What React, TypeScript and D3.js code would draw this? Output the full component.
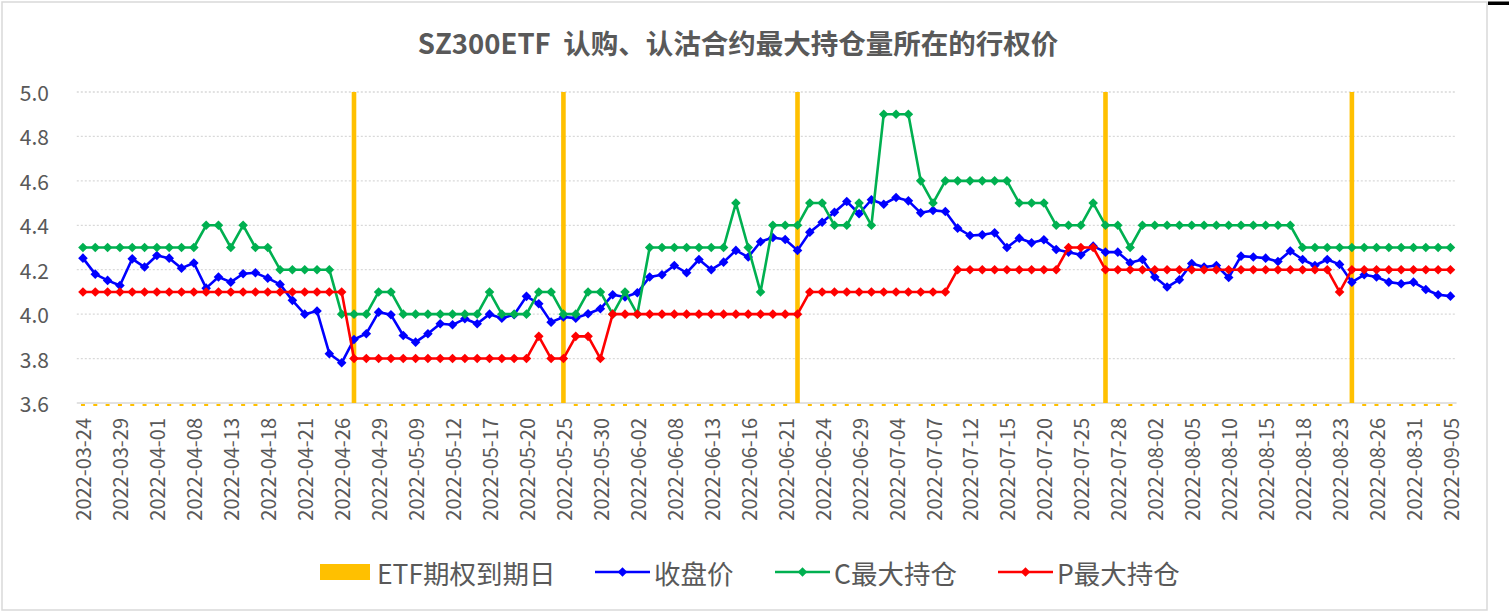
import * as d3 from "d3";

const dates = [
  "2022-03-24", "2022-03-25", "2022-03-28", "2022-03-29", "2022-03-30", "2022-03-31",
  "2022-04-01", "2022-04-06", "2022-04-07", "2022-04-08", "2022-04-11", "2022-04-12", "2022-04-13",
  "2022-04-14", "2022-04-15", "2022-04-18", "2022-04-19", "2022-04-20", "2022-04-21", "2022-04-22",
  "2022-04-25", "2022-04-26", "2022-04-27", "2022-04-28", "2022-04-29",
  "2022-05-05", "2022-05-06", "2022-05-09", "2022-05-10", "2022-05-11", "2022-05-12", "2022-05-13",
  "2022-05-16", "2022-05-17", "2022-05-18", "2022-05-19", "2022-05-20", "2022-05-23", "2022-05-24",
  "2022-05-25", "2022-05-26", "2022-05-27", "2022-05-30", "2022-05-31",
  "2022-06-01", "2022-06-02", "2022-06-06", "2022-06-07", "2022-06-08", "2022-06-09", "2022-06-10",
  "2022-06-13", "2022-06-14", "2022-06-15", "2022-06-16", "2022-06-17", "2022-06-20", "2022-06-21",
  "2022-06-22", "2022-06-23", "2022-06-24", "2022-06-27", "2022-06-28", "2022-06-29", "2022-06-30",
  "2022-07-01", "2022-07-04", "2022-07-05", "2022-07-06", "2022-07-07", "2022-07-08", "2022-07-11",
  "2022-07-12", "2022-07-13", "2022-07-14", "2022-07-15", "2022-07-18", "2022-07-19", "2022-07-20",
  "2022-07-21", "2022-07-22", "2022-07-25", "2022-07-26", "2022-07-27", "2022-07-28", "2022-07-29",
  "2022-08-01", "2022-08-02", "2022-08-03", "2022-08-04", "2022-08-05", "2022-08-08", "2022-08-09",
  "2022-08-10", "2022-08-11", "2022-08-12", "2022-08-15", "2022-08-16", "2022-08-17", "2022-08-18",
  "2022-08-19", "2022-08-22", "2022-08-23", "2022-08-24", "2022-08-25", "2022-08-26", "2022-08-29",
  "2022-08-30", "2022-08-31", "2022-09-01", "2022-09-02", "2022-09-05",
];

// ETF option expiry days (bar series, drawn up to 5.0)
const expiryDates = ["2022-04-27", "2022-05-25", "2022-06-22", "2022-07-27", "2022-08-24"];
const expiryValue = 5.0;

// 收盘价
const close = [
  4.252, 4.18, 4.152, 4.129, 4.249, 4.212, 4.264, 4.252, 4.207, 4.23,
  4.117, 4.167, 4.144, 4.182, 4.186, 4.162, 4.134, 4.062, 4.0, 4.014,
  3.822, 3.781, 3.886, 3.912, 4.009, 3.997, 3.904, 3.874, 3.912, 3.957,
  3.952, 3.979, 3.957, 4.0, 3.982, 3.997, 4.08, 4.047, 3.964, 3.987,
  3.982, 4.002, 4.024, 4.087, 4.077, 4.096, 4.167, 4.177, 4.219, 4.186,
  4.246, 4.2, 4.234, 4.287, 4.257, 4.326, 4.345, 4.336, 4.287, 4.369,
  4.414, 4.459, 4.507, 4.452, 4.515, 4.495, 4.525, 4.51, 4.456, 4.467,
  4.462, 4.387, 4.354, 4.357, 4.366, 4.3, 4.342, 4.321, 4.335, 4.291,
  4.279, 4.267, 4.306, 4.279, 4.279, 4.231, 4.246, 4.167, 4.122, 4.155,
  4.228, 4.212, 4.219, 4.165, 4.261, 4.257, 4.252, 4.237, 4.284, 4.246,
  4.219, 4.246, 4.224, 4.144, 4.177, 4.167, 4.144, 4.137, 4.144, 4.111,
  4.087, 4.081,
];

// C最大持仓
const callMax = [
  4.3, 4.3, 4.3, 4.3, 4.3, 4.3, 4.3, 4.3, 4.3, 4.3,
  4.4, 4.4, 4.3, 4.4, 4.3, 4.3, 4.2, 4.2, 4.2, 4.2,
  4.2, 4.0, 4.0, 4.0, 4.1, 4.1, 4.0, 4.0, 4.0, 4.0,
  4.0, 4.0, 4.0, 4.1, 4.0, 4.0, 4.0, 4.1, 4.1, 4.0,
  4.0, 4.1, 4.1, 4.0, 4.1, 4.0, 4.3, 4.3, 4.3, 4.3,
  4.3, 4.3, 4.3, 4.5, 4.3, 4.1, 4.4, 4.4, 4.4, 4.5,
  4.5, 4.4, 4.4, 4.5, 4.4, 4.9, 4.9, 4.9, 4.6, 4.5,
  4.6, 4.6, 4.6, 4.6, 4.6, 4.6, 4.5, 4.5, 4.5, 4.4,
  4.4, 4.4, 4.5, 4.4, 4.4, 4.3, 4.4, 4.4, 4.4, 4.4,
  4.4, 4.4, 4.4, 4.4, 4.4, 4.4, 4.4, 4.4, 4.4, 4.3,
  4.3, 4.3, 4.3, 4.3, 4.3, 4.3, 4.3, 4.3, 4.3, 4.3,
  4.3, 4.3,
];

// P最大持仓
const putMax = [
  4.1, 4.1, 4.1, 4.1, 4.1, 4.1, 4.1, 4.1, 4.1, 4.1,
  4.1, 4.1, 4.1, 4.1, 4.1, 4.1, 4.1, 4.1, 4.1, 4.1,
  4.1, 4.1, 3.8, 3.8, 3.8, 3.8, 3.8, 3.8, 3.8, 3.8,
  3.8, 3.8, 3.8, 3.8, 3.8, 3.8, 3.8, 3.9, 3.8, 3.8,
  3.9, 3.9, 3.8, 4.0, 4.0, 4.0, 4.0, 4.0, 4.0, 4.0,
  4.0, 4.0, 4.0, 4.0, 4.0, 4.0, 4.0, 4.0, 4.0, 4.1,
  4.1, 4.1, 4.1, 4.1, 4.1, 4.1, 4.1, 4.1, 4.1, 4.1,
  4.1, 4.2, 4.2, 4.2, 4.2, 4.2, 4.2, 4.2, 4.2, 4.2,
  4.3, 4.3, 4.3, 4.2, 4.2, 4.2, 4.2, 4.2, 4.2, 4.2,
  4.2, 4.2, 4.2, 4.2, 4.2, 4.2, 4.2, 4.2, 4.2, 4.2,
  4.2, 4.2, 4.1, 4.2, 4.2, 4.2, 4.2, 4.2, 4.2, 4.2,
  4.2, 4.2,
];

const yTicks = [3.6, 3.8, 4.0, 4.2, 4.4, 4.6, 4.8, 5.0];
const xTickLabels = dates.filter((_, i) => i % 3 === 0);

const title = "SZ300ETF  认购、认沽合约最大持仓量所在的行权价";
const legendNames = ["ETF期权到期日", "收盘价", "C最大持仓", "P最大持仓"];

const W = 1509;
const H = 611;
const FONT = '"Noto Sans CJK SC", "Noto Sans", sans-serif';
const GREY_TEXT = "#595959";
const GRID = "#D9D9D9";

const diamond = (s: number) => `M0,${-s}L${s},0L0,${s}L${-s},0Z`;

export default function App() {
  const x = d3.scaleBand<string>().domain(dates).range([76.8, 1456.6]);
  const cx = (d: string) => (x(d) as number) + x.bandwidth() / 2;
  const y = d3.scaleLinear().domain([3.6, 5.0]).range([403, 92]);

  const series = [
    { name: legendNames[1], values: close, color: "#0000FF" },
    { name: legendNames[2], values: callMax, color: "#00B050" },
    { name: legendNames[3], values: putMax, color: "#FF0000" },
  ];

  const line = d3
    .line<number>()
    .x((_, i) => cx(dates[i]))
    .y((v) => y(v));

  const [x0, x1] = x.range();

  // legend layout
  const legendY = 572;
  const legendItems = [
    { x: 320, name: legendNames[0], color: "#FFC000", kind: "bar" },
    { x: 595, name: legendNames[1], color: "#0000FF", kind: "line" },
    { x: 775, name: legendNames[2], color: "#00B050", kind: "line" },
    { x: 998, name: legendNames[3], color: "#FF0000", kind: "line" },
  ];

  return (
    <svg
      width={W}
      height={H}
      style={{ position: "absolute", left: 0, top: 0, background: "#fff" }}
      fontFamily={FONT}
    >
      <rect x={0} y={0} width={W} height={H} fill="#fff" />
      <rect x={2} y={2} width={1485} height={608} fill="none" stroke={GRID} strokeWidth={1.5} />
      <rect x={1488} y={1.5} width={21} height={3.5} fill="#000" />

      <text
        x={738}
        y={42}
        textAnchor="middle"
        dominantBaseline="central"
        fontSize={27.5}
        fontWeight="bold"
        fill={GREY_TEXT}
        style={{ whiteSpace: "pre" }}
      >
        {title}
      </text>

      {/* gridlines */}
      {yTicks
        .filter((t) => t !== 3.6)
        .map((t) => (
          <line
            key={t}
            x1={x0}
            x2={x1}
            y1={y(t)}
            y2={y(t)}
            stroke={GRID}
            strokeWidth={1.3}
            strokeDasharray="2 2"
          />
        ))}
      <line x1={x0} x2={x1} y1={y(3.6)} y2={y(3.6)} stroke={GRID} strokeWidth={1.5} />

      {/* y labels */}
      {yTicks.map((t) => (
        <text
          key={t}
          x={49}
          y={y(t)}
          textAnchor="end"
          dominantBaseline="central"
          fontSize={21}
          fill={GREY_TEXT}
        >
          {t.toFixed(1)}
        </text>
      ))}

      {/* x labels */}
      {xTickLabels.map((d) => (
        <text
          key={d}
          transform={`translate(${cx(d)},418) rotate(-90)`}
          textAnchor="end"
          dominantBaseline="central"
          fontSize={20}
          fill={GREY_TEXT}
        >
          {d}
        </text>
      ))}

      {/* expiry bars */}
      {dates.map((d) =>
        expiryDates.includes(d) ? (
          <rect
            key={d}
            x={cx(d) - 2.3}
            y={y(expiryValue)}
            width={4.6}
            height={y(3.6) - y(expiryValue)}
            fill="#FFC000"
          />
        ) : (
          <rect key={d} x={cx(d) - 2} y={y(3.6) + 1} width={4} height={2} fill="#FFC000" />
        )
      )}

      {/* lines */}
      {series.map((s) => (
        <g key={s.name}>
          <path d={line(s.values) || ""} fill="none" stroke={s.color} strokeWidth={2.6} strokeLinejoin="round" />
          {s.values.map((v, i) => (
            <path key={i} d={diamond(4.8)} transform={`translate(${cx(dates[i])},${y(v)})`} fill={s.color} />
          ))}
        </g>
      ))}

      {/* legend */}
      {legendItems.map((it) => (
        <g key={it.name}>
          {it.kind === "bar" ? (
            <rect x={it.x} y={legendY - 8} width={50} height={16} fill={it.color} />
          ) : (
            <g>
              <line x1={it.x} x2={it.x + 55} y1={legendY} y2={legendY} stroke={it.color} strokeWidth={2.6} />
              <path d={diamond(4.8)} transform={`translate(${it.x + 27.5},${legendY})`} fill={it.color} />
            </g>
          )}
          <text
            x={it.kind === "bar" ? it.x + 57 : it.x + 59}
            y={legendY}
            dominantBaseline="central"
            fontSize={26.5}
            fill={GREY_TEXT}
          >
            {it.name}
          </text>
        </g>
      ))}
    </svg>
  );
}
